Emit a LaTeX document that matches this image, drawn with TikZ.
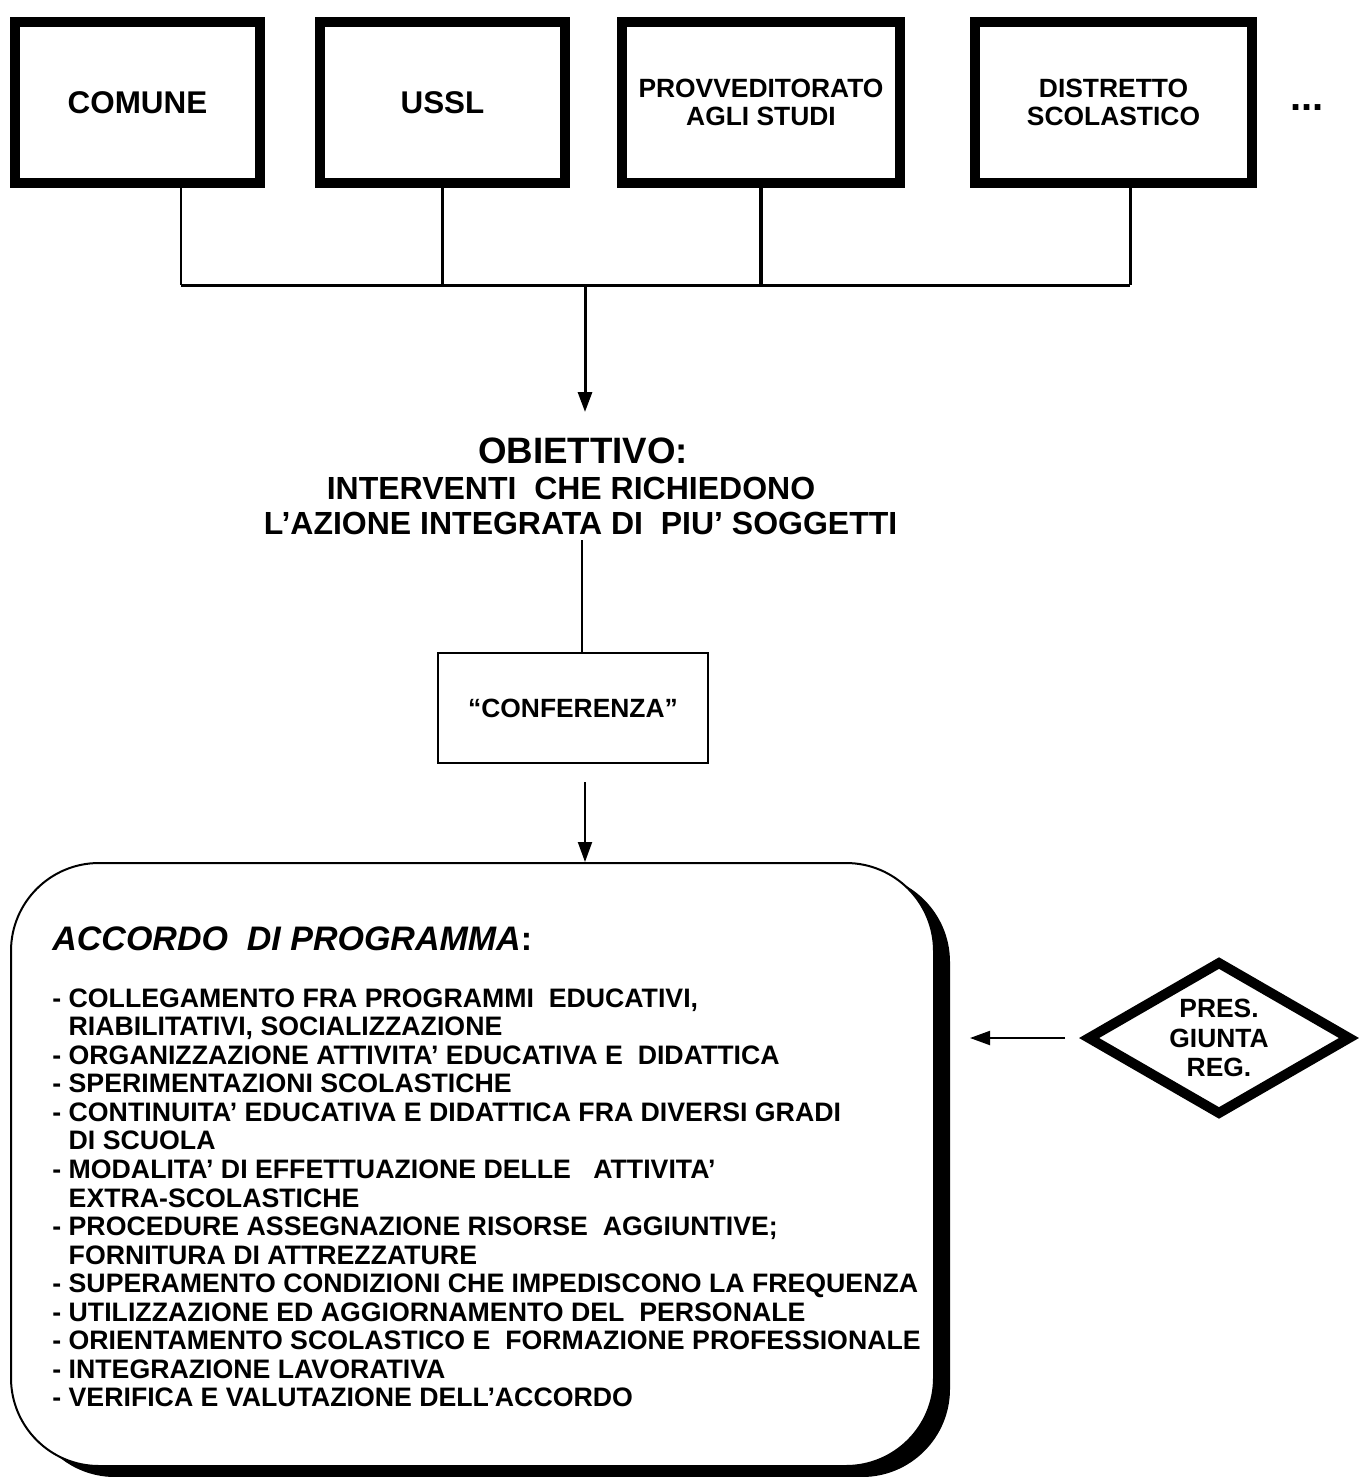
\documentclass[tikz,border=0pt]{standalone}
\usepackage{fontspec}
\setmainfont{Liberation Sans}
\usetikzlibrary{positioning,shapes.geometric,arrows.meta,shadows}

\begin{document}
\begin{tikzpicture}[x=0.5pt,y=-0.5pt,
  ente/.style={draw,line width=5pt,inner sep=0pt,minimum height=80.5pt,align=center,font=\bfseries\fontsize{13.2}{14}\selectfont},
  grande/.style={font=\bfseries\fontsize{15.7}{18}\selectfont},
  freccia/.style={-{Triangle[length=10pt,width=7pt]}},
  testo/.style={anchor=base,inner sep=0pt},
  riga/.style={anchor=base west,inner sep=0pt,font=\bfseries\fontsize{13.35}{14.3}\selectfont}]
 \useasboundingbox (0,0) rectangle (1362,1477);
 \node [ente,grande,minimum width=122.5pt] (comune) at (137.5,102.5) {COMUNE};
 \node [ente,grande,minimum width=122.5pt] (ussl) at (442.5,102.5) {USSL};
 \node [ente,minimum width=139pt] (provv) at (761,102.5) {PROVVEDITORATO\\AGLI STUDI};
 \node [ente,minimum width=138.5pt] (distretto) at (1113.5,102.5) {DISTRETTO\\SCOLASTICO};
 \node [testo,font=\bfseries\fontsize{20}{24}\selectfont] (altri) at (1307,111) {...};
 \coordinate (b1) at (181,285);
 \coordinate (b4) at (1130,285);
 \coordinate (b0) at (585,285);
 \coordinate (t0) at (585,412);
 \draw [line width=1pt] (comune.south -| b1) -- (b1);
 \draw [line width=1.75pt] (ussl.south) -- (ussl.south |- b1);
 \draw [line width=1.75pt] (provv.south) -- (provv.south |- b1);
 \draw [line width=1.5pt] (distretto.south -| b4) -- (b4);
 \draw [line width=1.5pt] (b1) -- (b4);
 \draw [freccia,line width=1.5pt] (b0) -- (t0);
 \node [testo,font=\bfseries\fontsize{18.35}{20}\selectfont] (obj) at (583,463) {OBIETTIVO:};
 \node [testo,font=\bfseries\fontsize{16}{18}\selectfont] (obja) at (571,499) {INTERVENTI\ \ CHE RICHIEDONO};
 \node [testo,font=\bfseries\fontsize{16}{18}\selectfont] (objb) at (580.5,534) {L’AZIONE INTEGRATA DI\ \ PIU’ SOGGETTI};
 \node [draw,line width=1.25pt,minimum width=135pt,minimum height=55pt,font=\bfseries\fontsize{13.2}{14}\selectfont] (conf) at (573,708) {“CONFERENZA”};
 \coordinate (c1) at (582,540);
 \coordinate (c2) at (585,782);
 \draw [line width=1pt] (c1) -- (c1 |- conf.north);
 \node [draw,line width=1pt,rounded corners=44pt,minimum width=461.5pt,minimum height=301.5pt,fill=white,
   drop shadow={shadow xshift=8pt,shadow yshift=-5.5pt,fill=black,opacity=1}] (accordo) at (472.5,1164.5) {};
 \draw [freccia,line width=1pt] (c2) -- (c2 |- accordo.north);
 \node [anchor=base west,inner sep=0pt,font=\bfseries\fontsize{17}{20}\selectfont] (titolo) at (52,950) {\itshape ACCORDO\ \ DI PROGRAMMA\upshape:};
 \foreach \voce [count=\i] in {
   {- COLLEGAMENTO FRA PROGRAMMI\ \ EDUCATIVI,},
   {\hphantom{- }RIABILITATIVI, SOCIALIZZAZIONE},
   {- ORGANIZZAZIONE ATTIVITA’ EDUCATIVA E\ \ DIDATTICA},
   {- SPERIMENTAZIONI SCOLASTICHE},
   {- CONTINUITA’ EDUCATIVA E DIDATTICA FRA DIVERSI GRADI},
   {\hphantom{- }DI SCUOLA},
   {- MODALITA’ DI EFFETTUAZIONE DELLE\ \ \ ATTIVITA’},
   {\hphantom{- }EXTRA-SCOLASTICHE},
   {- PROCEDURE ASSEGNAZIONE RISORSE\ \ AGGIUNTIVE;},
   {\hphantom{- }FORNITURA DI ATTREZZATURE},
   {- SUPERAMENTO CONDIZIONI CHE IMPEDISCONO LA FREQUENZA},
   {- UTILIZZAZIONE ED AGGIORNAMENTO DEL\ \ PERSONALE},
   {- ORIENTAMENTO SCOLASTICO E\ \ FORMAZIONE PROFESSIONALE},
   {- INTEGRAZIONE LAVORATIVA},
   {- VERIFICA E VALUTAZIONE DELL’ACCORDO}}
   \node [riga] (voce\i) at (52,{1007+28.57*(\i-1)}) {\voce};
 \node [diamond,draw,line width=5pt,aspect=1.7,inner sep=0pt,minimum width=132pt,minimum height=77pt,align=center,
   font=\bfseries\fontsize{13.2}{14.75}\selectfont] (pres) at (1219,1038) {PRES.\\GIUNTA\\REG.};
 \coordinate (a1) at (970,1038);
 \draw [freccia,line width=1pt] ([xshift=-8.5pt]pres.west) -- (pres.west -| a1);
\end{tikzpicture}
\end{document}
